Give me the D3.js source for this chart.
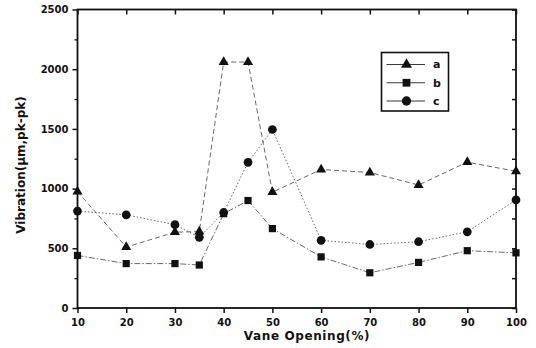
<!DOCTYPE html>
<html>
<head>
<meta charset="utf-8">
<script src="https://cdn.jsdelivr.net/npm/d3@7"></script>
<style>
  html, body { margin: 0; padding: 0; background: #fff; }
  svg { display: block; }
  text { font-family: "DejaVu Sans", Arial, sans-serif; font-weight: bold; fill: #111; }
</style>
</head>
<body>
<svg id="chart" width="536" height="348"></svg>
<script>
// Vane opening (%) at which vibration was measured
const vaneOpening = [10, 20, 30, 35, 40, 45, 50, 60, 70, 80, 90, 100];

// Vibration amplitude (µm, pk-pk) for each operating condition
const seriesA = [975, 510, 635, 640, 2060, 2060, 970, 1160, 1135, 1030, 1222, 1145];
const seriesB = [440, 372, 372, 360, 790, 900, 665, 428, 295, 382, 480, 462];
const seriesC = [812, 780, 698, 592, 800, 1220, 1495, 567, 532, 555, 638, 905];

const seriesNames = ["a", "b", "c"];

const xTicks = [10, 20, 30, 40, 50, 60, 70, 80, 90, 100];
const yTicks = [0, 500, 1000, 1500, 2000, 2500];
const yMinorTicks = [250, 750, 1250, 1750, 2250];

const svg = d3.select("#chart");
const plotLeft = 77.5, plotRight = 516, plotTop = 9.5, plotBottom = 308;

const x = d3.scaleLinear().domain([10, 100]).range([plotLeft, plotRight]);
const y = d3.scaleLinear().domain([0, 2500]).range([plotBottom, plotTop]);
const plain = d3.format("d");

const series = [
  { name: seriesNames[0], values: seriesA, symbol: d3.symbolTriangle, size: 44, dash: "5,3" },
  { name: seriesNames[1], values: seriesB, symbol: d3.symbolSquare, size: 52, dash: "6,2,1.5,2" },
  { name: seriesNames[2], values: seriesC, symbol: d3.symbolCircle, size: 60, dash: "1.5,2" }
];

// Bottom axis (outward ticks with labels)
const xAxis = svg.append("g")
  .attr("transform", `translate(0,${plotBottom})`)
  .call(d3.axisBottom(x).tickValues(xTicks).tickFormat(plain).tickSize(5).tickSizeOuter(0).tickPadding(6));
xAxis.select(".domain").remove();
xAxis.selectAll("line").attr("stroke", "#111").attr("stroke-width", 1.5);
xAxis.selectAll("text").style("font-size", "10px");

// Left axis (outward ticks with labels)
const yAxis = svg.append("g")
  .attr("transform", `translate(${plotLeft},0)`)
  .call(d3.axisLeft(y).tickValues(yTicks).tickFormat(plain).tickSize(5).tickSizeOuter(0).tickPadding(4));
yAxis.select(".domain").remove();
yAxis.selectAll("line").attr("stroke", "#111").attr("stroke-width", 1.5);
yAxis.selectAll("text").style("font-size", "10px");

// Left minor ticks
svg.append("g")
  .attr("transform", `translate(${plotLeft},0)`)
  .call(d3.axisLeft(y).tickValues(yMinorTicks).tickSize(3).tickFormat(""))
  .call(g => g.select(".domain").remove())
  .selectAll("line").attr("stroke", "#111").attr("stroke-width", 1.3);

// Top mirrored ticks (inward)
svg.append("g")
  .attr("transform", `translate(0,${plotTop})`)
  .call(d3.axisTop(x).tickValues(xTicks).tickSize(-5).tickFormat(""))
  .call(g => g.select(".domain").remove())
  .selectAll("line").attr("stroke", "#111").attr("stroke-width", 1.5);

// Right mirrored ticks (inward)
svg.append("g")
  .attr("transform", `translate(${plotRight},0)`)
  .call(d3.axisRight(y).tickValues(yTicks.concat(yMinorTicks)).tickSize(-4).tickFormat(""))
  .call(g => g.select(".domain").remove())
  .selectAll("line").attr("stroke", "#111").attr("stroke-width", 1.5);

// Plot frame
svg.append("rect")
  .attr("x", plotLeft).attr("y", plotTop)
  .attr("width", plotRight - plotLeft).attr("height", plotBottom - plotTop)
  .attr("fill", "none").attr("stroke", "#111").attr("stroke-width", 1.8);

// Series lines and markers
const line = d3.line().x((d, i) => x(vaneOpening[i])).y(d => y(d));

series.forEach(s => {
  svg.append("path")
    .datum(s.values)
    .attr("d", line)
    .attr("fill", "none")
    .attr("stroke", "#444")
    .attr("stroke-width", 0.8)
    .attr("stroke-dasharray", s.dash);
});

series.forEach(s => {
  svg.append("g").selectAll("path")
    .data(s.values)
    .join("path")
    .attr("transform", (d, i) => `translate(${x(vaneOpening[i])},${y(d)})`)
    .attr("d", d3.symbol().type(s.symbol).size(s.size))
    .attr("fill", "#111");
});

// Legend
const legend = svg.append("g");
legend.append("rect")
  .attr("x", 381.5).attr("y", 52.5).attr("width", 67).attr("height", 58.5)
  .attr("fill", "#fff").attr("stroke", "#111").attr("stroke-width", 1.6);

const legendY = d3.scalePoint().domain(seriesNames).range([64.5, 101]);
series.forEach(s => {
  const ly = legendY(s.name);
  legend.append("line")
    .attr("x1", 386.5).attr("x2", 425).attr("y1", ly).attr("y2", ly)
    .attr("stroke", "#222").attr("stroke-width", 0.9);
  legend.append("path")
    .attr("transform", `translate(406.5,${ly})`)
    .attr("d", d3.symbol().type(s.symbol).size(s.size + 8))
    .attr("fill", "#111");
  legend.append("text")
    .attr("x", 433).attr("y", ly).attr("dy", "0.36em")
    .style("font-size", "11px")
    .text(s.name);
});

// Axis titles
svg.append("text")
  .attr("x", 307).attr("y", 340)
  .attr("text-anchor", "middle")
  .style("font-size", "12px")
  .style("letter-spacing", "0.6px")
  .text("Vane Opening(%)");

svg.append("text")
  .attr("transform", "translate(25,165) rotate(-90)")
  .attr("text-anchor", "middle")
  .style("font-size", "12px")
  .text("Vibration(μm,pk-pk)");
</script>
</body>
</html>
